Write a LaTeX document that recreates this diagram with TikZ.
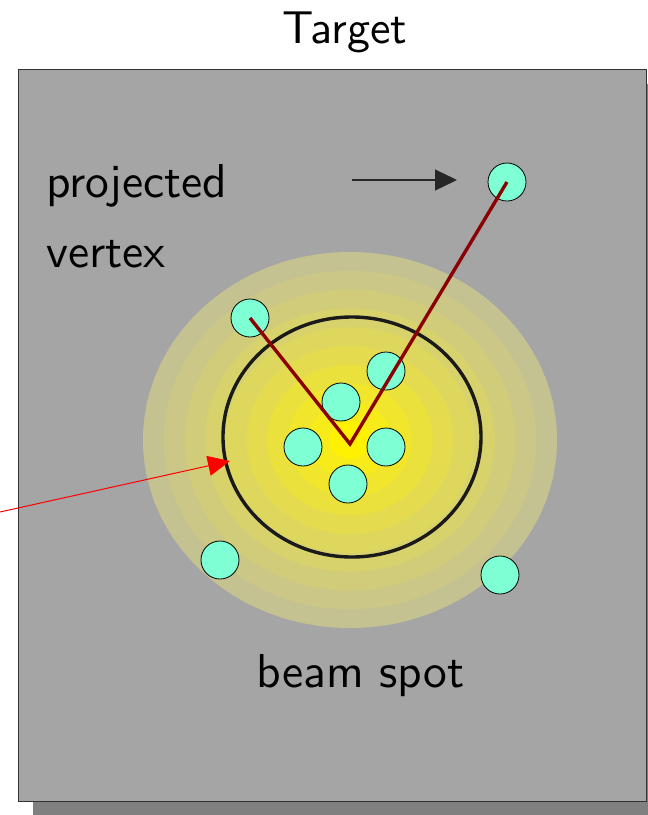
\documentclass[tikz,border=0pt]{standalone}
\usepackage{fontspec}
\newfontfamily\lblfont{lmsans10-regular}[Extension=.otf]
\usetikzlibrary{arrows.meta}
\definecolor{bggray}{RGB}{165,165,165}
\definecolor{shadowgray}{RGB}{128,128,128}
\definecolor{aqua}{RGB}{127,255,212}
\definecolor{trackred}{RGB}{139,0,0}
\definecolor{edgeblack}{RGB}{26,26,26}
\tikzset{
  lbl/.style={inner sep=0pt, font=\fontsize{47.5}{50}\selectfont\lblfont},
  titlelbl/.style={inner sep=0pt, font=\fontsize{46}{50}\selectfont\lblfont},
  hit/.style={circle, draw=black, line width=0.8pt, fill=aqua, minimum size=38pt, inner sep=0pt},
  track/.style={draw=trackred, line width=3.4pt, line join=miter},
  spotring/.style={draw=edgeblack, line width=3.4pt},
}
\begin{document}
\begin{tikzpicture}[x=1pt,y=-1pt]
\useasboundingbox (0,0) rectangle (648,815);
% shadow and target plate
\begin{scope}
\clip (0,0) rectangle (648,815);
\fill[shadowgray] (33,84) rectangle (661,816);
\end{scope}
\node[draw=black!80, line width=1pt, fill=bggray, minimum width=628pt, minimum height=732pt, inner sep=0pt, anchor=north west] (plate) at (18,69) {};
% beam spot glow
\foreach \k/\p in {0/26,1/34,2/42,3/50,4/58,5/66,6/74,7/82,8/90,9/100}{
  \fill[yellow!\p!bggray] (350,440) ellipse ({207-20.7*\k} and {188-18.8*\k});
}
\draw[spotring] (352,437) ellipse (129 and 120);
\coordinate (spotedge) at (230,461);
% hits
\node[hit] (h1) at (250,318) {};
\node[hit] (h2) at (386,371) {};
\node[hit] (h3) at (341,402) {};
\node[hit] (h4) at (303,447) {};
\node[hit] (h5) at (386,447) {};
\node[hit] (h6) at (348,484) {};
\node[hit] (h7) at (220,560) {};
\node[hit] (h8) at (500,575) {};
\node[hit] (h9) at (507,182) {};
% tracks
\coordinate (vtx) at (350,444);
\draw[track] (h1.center) -- (vtx) -- (h9.center);
% labels
\node[titlelbl, anchor=base] (title) at (345,43.5) {Target};
\node[lbl, anchor=base west] (proj) at (46,197) {projected};
\node[lbl, anchor=base west] (vert) at (46,267) {vertex};
\node[lbl, anchor=base west] (beam) at (256,687) {beam spot};
% arrows
\coordinate (pa) at (352,180);
\coordinate (pb) at (457,180);
\draw[black!85, line width=1.2pt, -{Triangle[length=22pt,width=21pt]}] (pa) -- (pb);
\coordinate (ra) at (0,512);
\draw[red, line width=1pt, -{Triangle[length=22pt,width=20pt]}] (ra) -- (spotedge);
\end{tikzpicture}
\end{document}
